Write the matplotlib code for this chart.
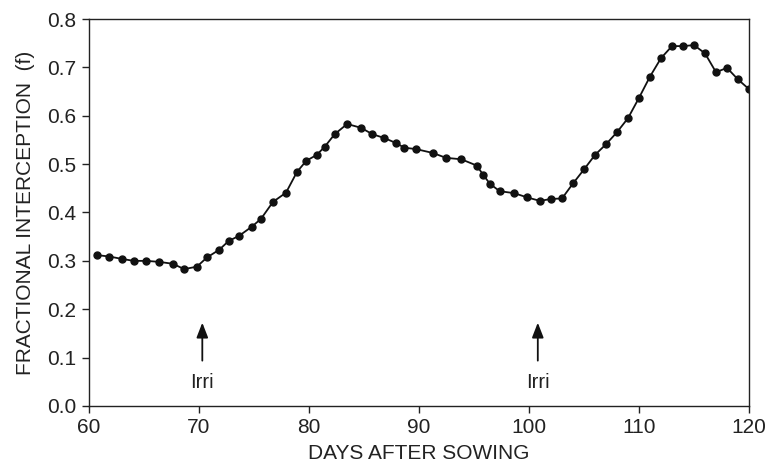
import matplotlib
matplotlib.use('Agg')
import matplotlib.pyplot as plt

plt.rcParams['font.family'] = ['Liberation Sans', 'DejaVu Sans']

# days after sowing
days = [60.7, 61.85, 63.0, 64.07, 65.22, 66.35, 67.62, 68.65, 69.81, 70.72,
        71.84, 72.69, 73.66, 74.82, 75.64, 76.73, 77.91, 78.91, 79.76, 80.7,
        81.43, 82.34, 83.47, 84.74, 85.75, 86.84, 87.87, 88.66, 89.75, 91.27,
        92.45, 93.85, 95.25, 95.86, 96.46, 97.34, 98.65, 99.86, 101.0, 102.0,
        103.0, 104.0, 105.0, 106.0, 107.0, 108.0, 109.0, 110.0, 111.0, 112.0,
        113.0, 114.0, 115.0, 116.0, 117.0, 118.0, 119.0, 120.0]
# fractional interception
f_int = [0.312, 0.309, 0.304, 0.300, 0.300, 0.298, 0.294, 0.283, 0.288, 0.307,
         0.323, 0.341, 0.352, 0.371, 0.387, 0.422, 0.441, 0.484, 0.507, 0.519,
         0.536, 0.562, 0.583, 0.575, 0.562, 0.554, 0.544, 0.534, 0.531, 0.523,
         0.513, 0.510, 0.497, 0.477, 0.459, 0.444, 0.440, 0.431, 0.424, 0.428,
         0.429, 0.460, 0.489, 0.519, 0.541, 0.566, 0.595, 0.637, 0.681, 0.719,
         0.744, 0.744, 0.746, 0.729, 0.690, 0.699, 0.675, 0.655]

# irrigation events
irri_days = [70.3, 100.8]
irri_label = 'Irri'

xticks = [60, 70, 80, 90, 100, 110, 120]
yticks = [0.0, 0.1, 0.2, 0.3, 0.4, 0.5, 0.6, 0.7, 0.8]

fig = plt.figure(figsize=(7.66, 4.68), dpi=100)
ax = fig.add_axes([0.1162, 0.1325, 0.8616, 0.8269])

ax.plot(days, f_int, '-o', color='#111111', linewidth=1.3, markersize=5)

for d in irri_days:
    ax.annotate('', xy=(d, 0.178), xytext=(d, 0.088),
                arrowprops=dict(arrowstyle='-|>,head_width=0.35,head_length=0.9',
                                color='#111111', lw=1.3))
    ax.text(d, 0.048, irri_label, ha='center', va='center', fontsize=14.5,
            color='#222222')

ax.set_xlim(60, 120)
ax.set_ylim(0, 0.8)
ax.set_xticks(xticks)
ax.set_yticks(yticks)
ax.set_yticklabels(['%.1f' % v for v in yticks])
ax.tick_params(direction='out', length=5, width=1, labelsize=15,
               colors='#222222', top=False, right=False, pad=4)
for s in ax.spines.values():
    s.set_linewidth(1)
    s.set_color('#222222')

ax.set_xlabel('DAYS AFTER SOWING', fontsize=15, color='#222222', labelpad=5)
ax.set_ylabel('FRACTIONAL INTERCEPTION  (f)', fontsize=15, color='#222222',
              labelpad=9)

fig.savefig('out.png', dpi=100)
